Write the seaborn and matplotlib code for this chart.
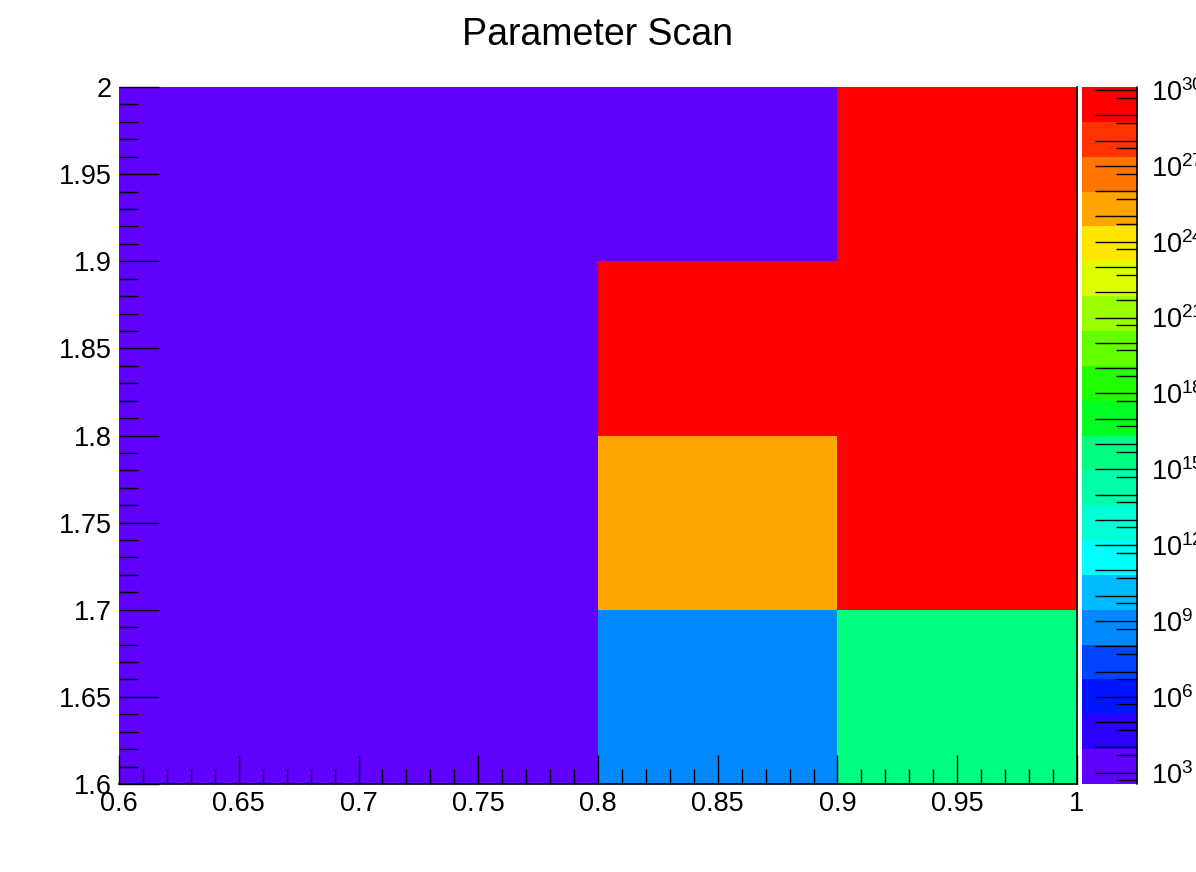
import numpy as np
import pandas as pd
import seaborn as sns
import matplotlib
matplotlib.use("Agg")
import matplotlib.pyplot as plt
from matplotlib.colors import ListedColormap, LogNorm
from matplotlib.ticker import FixedLocator, FuncFormatter, NullFormatter

# bin edges of the scan
x_edges = [0.6, 0.7, 0.8, 0.9, 1.0]
y_edges = [1.6, 1.7, 1.8, 1.9, 2.0]

# cell contents, one list per y bin (bottom to top)
row_160 = [1e3, 1e3, 1e9, 10 ** 15.6]
row_170 = [1e3, 1e3, 10 ** 25.3, 1e30]
row_180 = [1e3, 1e3, 1e30, 1e30]
row_190 = [1e3, 1e3, 1e3, 1e30]

z_min = 10 ** 2.55
z_max = 10 ** 30.12

# 20 contour colours, low to high (old ROOT rainbow)
palette = ["#6000FF", "#2A00FF", "#0014FF", "#0044FF", "#0088FF",
           "#00BBFF", "#00FFFF", "#00FFD5", "#00FFAA", "#00FF80",
           "#00FF22", "#22FF00", "#66FF00", "#99FF00", "#DDFF00",
           "#FFE600", "#FFA500", "#FF7700", "#FF3300", "#FF0000"]

x_major = [0.6, 0.65, 0.7, 0.75, 0.8, 0.85, 0.9, 0.95, 1.0]
y_major = [1.6, 1.65, 1.7, 1.75, 1.8, 1.85, 1.9, 1.95, 2.0]

sns.set_style("white")
plt.rcParams["font.family"] = ["Liberation Sans", "DejaVu Sans"]
plt.rcParams["mathtext.fontset"] = "custom"
plt.rcParams["mathtext.rm"] = "Liberation Sans"
plt.rcParams["mathtext.it"] = "Liberation Sans:italic"
plt.rcParams["text.color"] = "black"
plt.rcParams["xtick.color"] = "black"
plt.rcParams["ytick.color"] = "black"
plt.rcParams["axes.axisbelow"] = False

# heatmap draws rows top first
rows = [row_190, row_180, row_170, row_160]
centers_x = [round((a + b) / 2, 3) for a, b in zip(x_edges[:-1], x_edges[1:])]
centers_y = [round((a + b) / 2, 3) for a, b in zip(y_edges[:-1], y_edges[1:])][::-1]
df = pd.DataFrame(rows, index=centers_y, columns=centers_x)

x0, dx = x_edges[0], x_edges[1] - x_edges[0]
y1, dy = y_edges[-1], y_edges[1] - y_edges[0]


def to_cx(v):
    return (v - x0) / dx


def to_cy(v):
    return (y1 - v) / dy


fig = plt.figure(figsize=(11.96, 8.72), dpi=100)
ax = fig.add_axes([0.0995, 0.1009, 0.801, 0.7993])
cax = fig.add_axes([0.9047, 0.1009, 0.046, 0.7993])

sns.heatmap(df, ax=ax, cbar_ax=cax, cmap=ListedColormap(palette),
            norm=LogNorm(vmin=z_min, vmax=z_max),
            xticklabels=False, yticklabels=False)
ax.set_axisbelow(False)
cax.set_axisbelow(False)

# main frame
for side in ["top", "left"]:
    ax.spines[side].set_visible(False)
for side in ["bottom", "right"]:
    ax.spines[side].set_visible(True)
    ax.spines[side].set_color("black")
    ax.spines[side].set_linewidth(1.2)

ax.set_xticks([to_cx(v) for v in x_major])
ax.set_xticklabels(["%g" % v for v in x_major])
ax.set_xticks([to_cx(x0 + 0.01 * i) for i in range(41)], minor=True)
ax.set_yticks([to_cy(v) for v in y_major])
ax.set_yticklabels(["%g" % v for v in y_major])
ax.set_yticks([to_cy(y_edges[0] + 0.01 * i) for i in range(41)], minor=True)
ax.set_xlabel("")
ax.set_ylabel("")

ax.tick_params(axis="x", which="major", direction="in", length=21, width=1,
               labelsize=19.5, pad=5, bottom=True, color="black",
               labelcolor="black")
ax.tick_params(axis="x", which="minor", direction="in", length=10.5, width=1,
               bottom=True, color="black")
ax.tick_params(axis="y", which="major", direction="in", length=29, width=1,
               labelsize=19.5, pad=5, left=True, color="black",
               labelcolor="black")
ax.tick_params(axis="y", which="minor", direction="in", length=14, width=1,
               left=True, color="black")
for lab in ax.get_yticklabels():
    lab.set_rotation(0)

ax.set_title("Parameter Scan", fontsize=27, pad=30, color="black")

# colour bar
cb = ax.collections[0].colorbar
cb.outline.set_visible(False)
cax.yaxis.set_ticks_position("right")
cax.yaxis.set_major_locator(FixedLocator(10.0 ** np.arange(3, 31)))
cax.yaxis.set_minor_locator(FixedLocator(5 * 10.0 ** np.arange(2, 30)))
cax.yaxis.set_major_formatter(FuncFormatter(
    lambda v, p: r"$10^{%d}$" % round(np.log10(v)) if round(np.log10(v)) % 3 == 0 else ""))
cax.yaxis.set_minor_formatter(NullFormatter())
cax.tick_params(axis="y", which="major", direction="in", length=30, width=1,
                labelsize=19.5, pad=10, right=True, color="black",
                labelcolor="black")
cax.tick_params(axis="y", which="minor", direction="in", length=15, width=1,
                right=True, color="black")
cax.plot([1, 1], [0, 1], transform=cax.transAxes, color="black", lw=1.2,
         clip_on=False)

fig.savefig("out.png", dpi=100)
